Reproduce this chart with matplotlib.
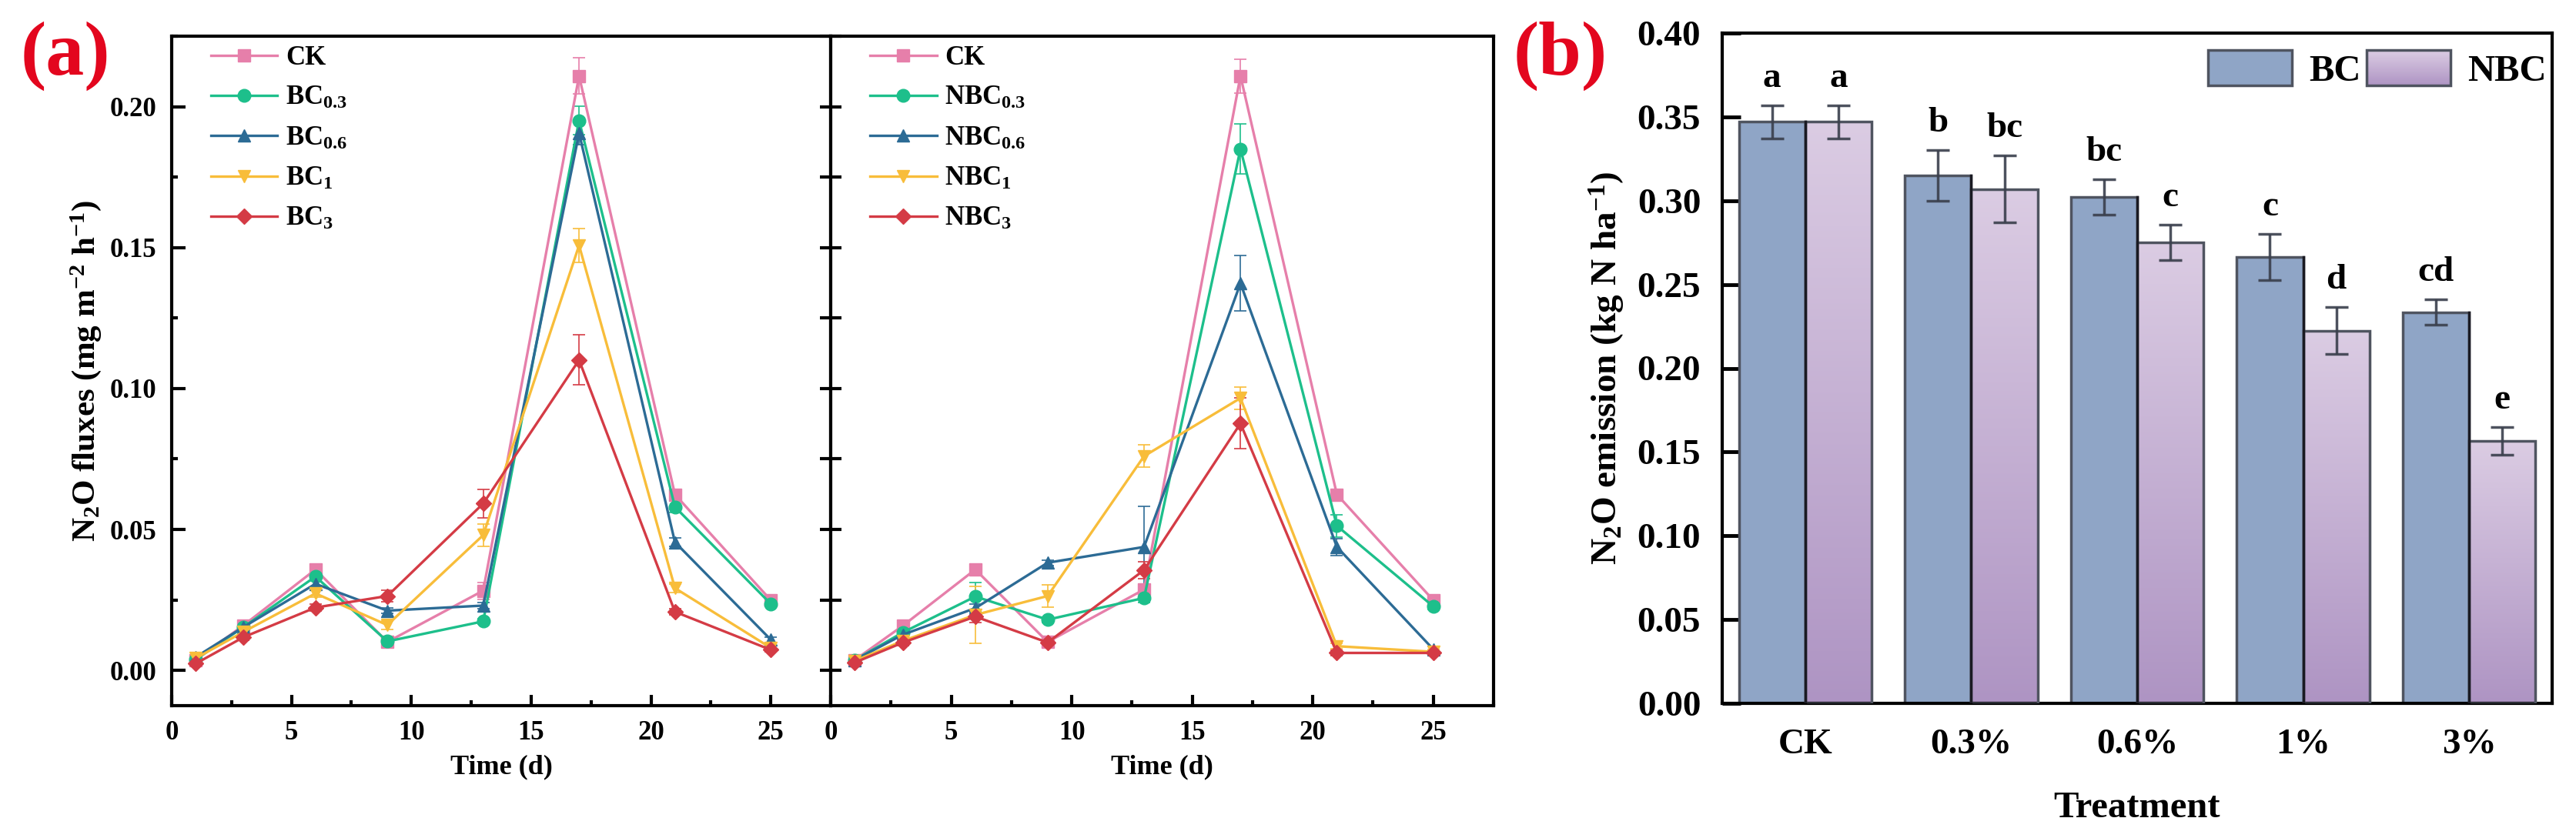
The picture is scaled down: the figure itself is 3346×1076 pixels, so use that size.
import numpy as np
import matplotlib
matplotlib.use("Agg")
import matplotlib.pyplot as plt
from matplotlib.patches import Rectangle
from matplotlib.legend_handler import HandlerBase
from matplotlib.colors import LinearSegmentedColormap
from matplotlib.ticker import MultipleLocator

# fonts: Times-like bold everywhere
plt.rcParams['font.family'] = ['Liberation Serif', 'DejaVu Serif']
plt.rcParams['font.weight'] = 'bold'
plt.rcParams['mathtext.fontset'] = 'custom'
plt.rcParams['mathtext.rm'] = 'Liberation Serif:bold'
plt.rcParams['mathtext.it'] = 'Liberation Serif:bold'
plt.rcParams['mathtext.bf'] = 'Liberation Serif:bold'
plt.rcParams['mathtext.default'] = 'bf'

# ---- data: N2O fluxes over time ----
days = [1, 3, 6, 9, 13, 17, 21, 25]

bc_ck = [0.0037, 0.0160, 0.0358, 0.0101, 0.0283, 0.2109, 0.0624, 0.0249]
bc_03 = [0.0039, 0.0154, 0.0333, 0.0103, 0.0174, 0.1951, 0.0580, 0.0236]
bc_06 = [0.0047, 0.0154, 0.0307, 0.0212, 0.0230, 0.1906, 0.0455, 0.0109]
bc_1 = [0.0043, 0.0137, 0.0273, 0.0161, 0.0480, 0.1508, 0.0292, 0.0080]
bc_3 = [0.0024, 0.0118, 0.0223, 0.0264, 0.0592, 0.1101, 0.0208, 0.0073]

bc_ck_err = [0.0008, 0.0010, 0.0012, 0.0010, 0.0030, 0.0064, 0.0015, 0.0010]
bc_03_err = [0.0008, 0.0010, 0.0015, 0.0008, 0.0010, 0.0050, 0.0020, 0.0010]
bc_06_err = [0.0008, 0.0010, 0.0015, 0.0010, 0.0010, 0.0040, 0.0015, 0.0010]
bc_1_err = [0.0008, 0.0010, 0.0012, 0.0015, 0.0040, 0.0060, 0.0015, 0.0008]
bc_3_err = [0.0008, 0.0010, 0.0012, 0.0020, 0.0050, 0.0089, 0.0010, 0.0008]

nbc_ck = [0.0037, 0.0159, 0.0358, 0.0101, 0.0287, 0.2109, 0.0624, 0.0249]
nbc_03 = [0.0037, 0.0135, 0.0262, 0.0180, 0.0257, 0.1850, 0.0513, 0.0227]
nbc_06 = [0.0037, 0.0127, 0.0221, 0.0382, 0.0438, 0.1373, 0.0438, 0.0075]
nbc_1 = [0.0034, 0.0105, 0.0197, 0.0264, 0.0760, 0.0966, 0.0086, 0.0066]
nbc_3 = [0.0028, 0.0099, 0.0191, 0.0099, 0.0356, 0.0876, 0.0062, 0.0062]

nbc_ck_err = [0.0008, 0.0010, 0.0012, 0.0010, 0.0020, 0.0060, 0.0015, 0.0010]
nbc_03_err = [0.0008, 0.0010, 0.0050, 0.0010, 0.0015, 0.0090, 0.0040, 0.0010]
nbc_06_err = [0.0008, 0.0010, 0.0015, 0.0010, 0.0143, 0.0098, 0.0030, 0.0010]
nbc_1_err = [0.0008, 0.0010, 0.0100, 0.0040, 0.0040, 0.0040, 0.0010, 0.0008]
nbc_3_err = [0.0008, 0.0010, 0.0020, 0.0010, 0.0030, 0.0090, 0.0010, 0.0008]

bc_labels = ['CK', r'BC$_{0.3}$', r'BC$_{0.6}$', r'BC$_{1}$', r'BC$_{3}$']
nbc_labels = ['CK', r'NBC$_{0.3}$', r'NBC$_{0.6}$', r'NBC$_{1}$', r'NBC$_{3}$']

# ---- data: cumulative emission ----
treatments = ['CK', '0.3%', '0.6%', '1%', '3%']
emis_bc = [0.347, 0.315, 0.302, 0.2665, 0.2335]
emis_nbc = [0.347, 0.307, 0.275, 0.2225, 0.1565]
err_bc = [0.010, 0.015, 0.0106, 0.0137, 0.0076]
err_nbc = [0.010, 0.020, 0.0106, 0.014, 0.0083]
letters_bc = ['a', 'b', 'bc', 'c', 'cd']
letters_nbc = ['a', 'bc', 'c', 'd', 'e']

line_colors = ['#E67FAA', '#1DBF8B', '#2C6B95', '#F8BD3A', '#D43B45']
markers = ['s', 'o', '^', 'v', 'D']
msizes = [11, 12, 12, 12, 10]

W, H = 3346, 1076
fig = plt.figure(figsize=(W / 100, H / 100), dpi=100)


def px_axes(l, t, r, b):
    return fig.add_axes([l / W, 1 - b / H, (r - l) / W, (b - t) / H])


ax1 = px_axes(223, 47, 1079, 917)
ax2 = px_axes(1079, 47, 1940, 917)
ax3 = px_axes(2237, 43, 3315, 914)

series = [
    (ax1, [bc_ck, bc_03, bc_06, bc_1, bc_3],
     [bc_ck_err, bc_03_err, bc_06_err, bc_1_err, bc_3_err], bc_labels),
    (ax2, [nbc_ck, nbc_03, nbc_06, nbc_1, nbc_3],
     [nbc_ck_err, nbc_03_err, nbc_06_err, nbc_1_err, nbc_3_err], nbc_labels),
]

for ax, ys, errs, labs in series:
    for y, e, lab, c, m, ms in zip(ys, errs, labs, line_colors, markers, msizes):
        ax.errorbar(days, y, yerr=e, fmt='none', ecolor=c, elinewidth=1.4,
                    capsize=6, capthick=1.4, alpha=0.85, zorder=2)
        ax.plot(days, y, color=c, lw=2.4, marker=m, ms=ms, mfc=c, mec=c,
                label=lab, zorder=3)
    ax.set_xlim(0, 27.5)
    ax.set_ylim(-0.0125, 0.225)
    ax.xaxis.set_major_locator(MultipleLocator(5))
    ax.xaxis.set_minor_locator(MultipleLocator(2.5))
    ax.yaxis.set_major_locator(MultipleLocator(0.05))
    ax.yaxis.set_minor_locator(MultipleLocator(0.025))
    for sp in ax.spines.values():
        sp.set_linewidth(3)
    ax.tick_params(axis='x', which='major', direction='in', length=10, width=3,
                   labelsize=25, pad=14, top=False)
    ax.tick_params(axis='x', which='minor', direction='in', length=5, width=3, top=False)
    ax.set_xlabel('Time (d)', fontsize=26, fontweight='bold', labelpad=8)
    leg = ax.legend(loc='upper left', bbox_to_anchor=(0.055, 0.99), frameon=False,
                    fontsize=25, handlelength=2.5, handletextpad=0.3,
                    labelspacing=0.55, borderpad=0.1, borderaxespad=0)

ax1.tick_params(axis='y', which='major', direction='in', length=13, width=3,
                labelsize=25, pad=14, left=True, right=False)
ax1.tick_params(axis='y', which='minor', direction='in', length=6, width=3,
                left=True, right=False)
ax1.set_ylabel(r'N$_2$O fluxes (mg m$^{-2}$ h$^{-1}$)', fontsize=31,
               fontweight='bold', labelpad=6)

# ticks on the shared border point both ways
ax2.tick_params(axis='y', which='both', direction='inout', length=20, width=3,
                left=True, right=False, labelleft=False)

# ---- bar chart with gradient NBC bars ----
nbc_cmap = LinearSegmentedColormap.from_list('nbc', ['#AE94C3', '#DBCCE3'])
bc_color = '#8FA5C6'
edge = '#4F5460'
x = np.arange(len(treatments))
bw = 0.4
bars_bc = ax3.bar(x - bw / 2, emis_bc, bw, color=bc_color, edgecolor=edge,
                  linewidth=2.5, zorder=2, label='BC')
bars_nbc = ax3.bar(x + bw / 2, emis_nbc, bw, color='none', edgecolor=edge,
                   linewidth=2.5, zorder=3, label='NBC')
grad = np.linspace(0, 1, 256).reshape(-1, 1)
for b in bars_nbc:
    bx, by = b.get_x(), b.get_y()
    im = ax3.imshow(grad, cmap=nbc_cmap, origin='lower', aspect='auto',
                    extent=[bx, bx + b.get_width(), by, by + b.get_height()],
                    zorder=2.5)
    im.set_clip_path(b)
# dark divider between each pair
for b in bars_bc:
    ax3.plot([b.get_x() + bw, b.get_x() + bw], [0, b.get_height()],
             color='#1a1a22', lw=2.5, zorder=4)

ax3.errorbar(x - bw / 2, emis_bc, yerr=err_bc, fmt='none', ecolor='#3A3F4C',
             elinewidth=2.5, capsize=11, capthick=2.5, alpha=0.9, zorder=5)
ax3.errorbar(x + bw / 2, emis_nbc, yerr=err_nbc, fmt='none', ecolor='#3A3F4C',
             elinewidth=2.5, capsize=11, capthick=2.5, alpha=0.9, zorder=5)
for xi, v, e, s in zip(x - bw / 2, emis_bc, err_bc, letters_bc):
    ax3.text(xi, v + e + 0.011, s, ha='center', va='baseline', fontsize=34,
             fontweight='bold')
for xi, v, e, s in zip(x + bw / 2, emis_nbc, err_nbc, letters_nbc):
    ax3.text(xi, v + e + 0.011, s, ha='center', va='baseline', fontsize=34,
             fontweight='bold')

ax3.set_xlim(-0.5, 4.5)
ax3.set_ylim(0, 0.40)
ax3.set_xticks(x)
ax3.set_xticklabels(treatments)
ax3.yaxis.set_major_locator(MultipleLocator(0.05))
ax3.yaxis.set_major_formatter(matplotlib.ticker.FormatStrFormatter('%.2f'))
for sp in ax3.spines.values():
    sp.set_linewidth(3)
ax3.tick_params(axis='y', direction='in', length=17, width=3.5, labelsize=34, pad=20)
ax3.tick_params(axis='x', length=0, labelsize=34, pad=24)
ax3.set_xlabel('Treatment', fontsize=35, fontweight='bold', labelpad=28)
ax3.set_ylabel(r'N$_2$O emission (kg N ha$^{-1}$)', fontsize=34,
               fontweight='bold', labelpad=10)


class HandlerGradient(HandlerBase):
    def create_artists(self, legend, orig_handle, xdescent, ydescent, width,
                       height, fontsize, trans):
        n = 40
        arts = []
        for i in range(n):
            r = Rectangle((-xdescent, -ydescent + height * i / n), width,
                          height / n * 1.1, facecolor=nbc_cmap(i / (n - 1)),
                          edgecolor='none', transform=trans)
            arts.append(r)
        arts.append(Rectangle((-xdescent, -ydescent), width, height,
                              facecolor='none', edgecolor=edge, lw=2.5,
                              transform=trans))
        return arts


class HandlerBox(HandlerBase):
    def create_artists(self, legend, orig_handle, xdescent, ydescent, width,
                       height, fontsize, trans):
        return [Rectangle((-xdescent, -ydescent), width, height,
                          facecolor=bc_color, edgecolor=edge, lw=2.5,
                          transform=trans)]


ax3.legend([bars_bc, bars_nbc], ['BC', 'NBC'], loc='upper left',
           bbox_to_anchor=(0.585, 0.975), ncol=2, frameon=False, fontsize=35,
           handlelength=2.25, handleheight=1.1, handletextpad=0.45,
           columnspacing=0.15, borderpad=0, borderaxespad=0,
           handler_map={bars_bc: HandlerBox(), bars_nbc: HandlerGradient()})

fig.text(85 / W, 1 - 73 / H, '(a)', color='#E3061E', fontsize=72,
         fontweight='bold', ha='center', va='center')
fig.text(2027 / W, 1 - 73 / H, '(b)', color='#E3061E', fontsize=72,
         fontweight='bold', ha='center', va='center')

fig.savefig('out.png', dpi=100)
